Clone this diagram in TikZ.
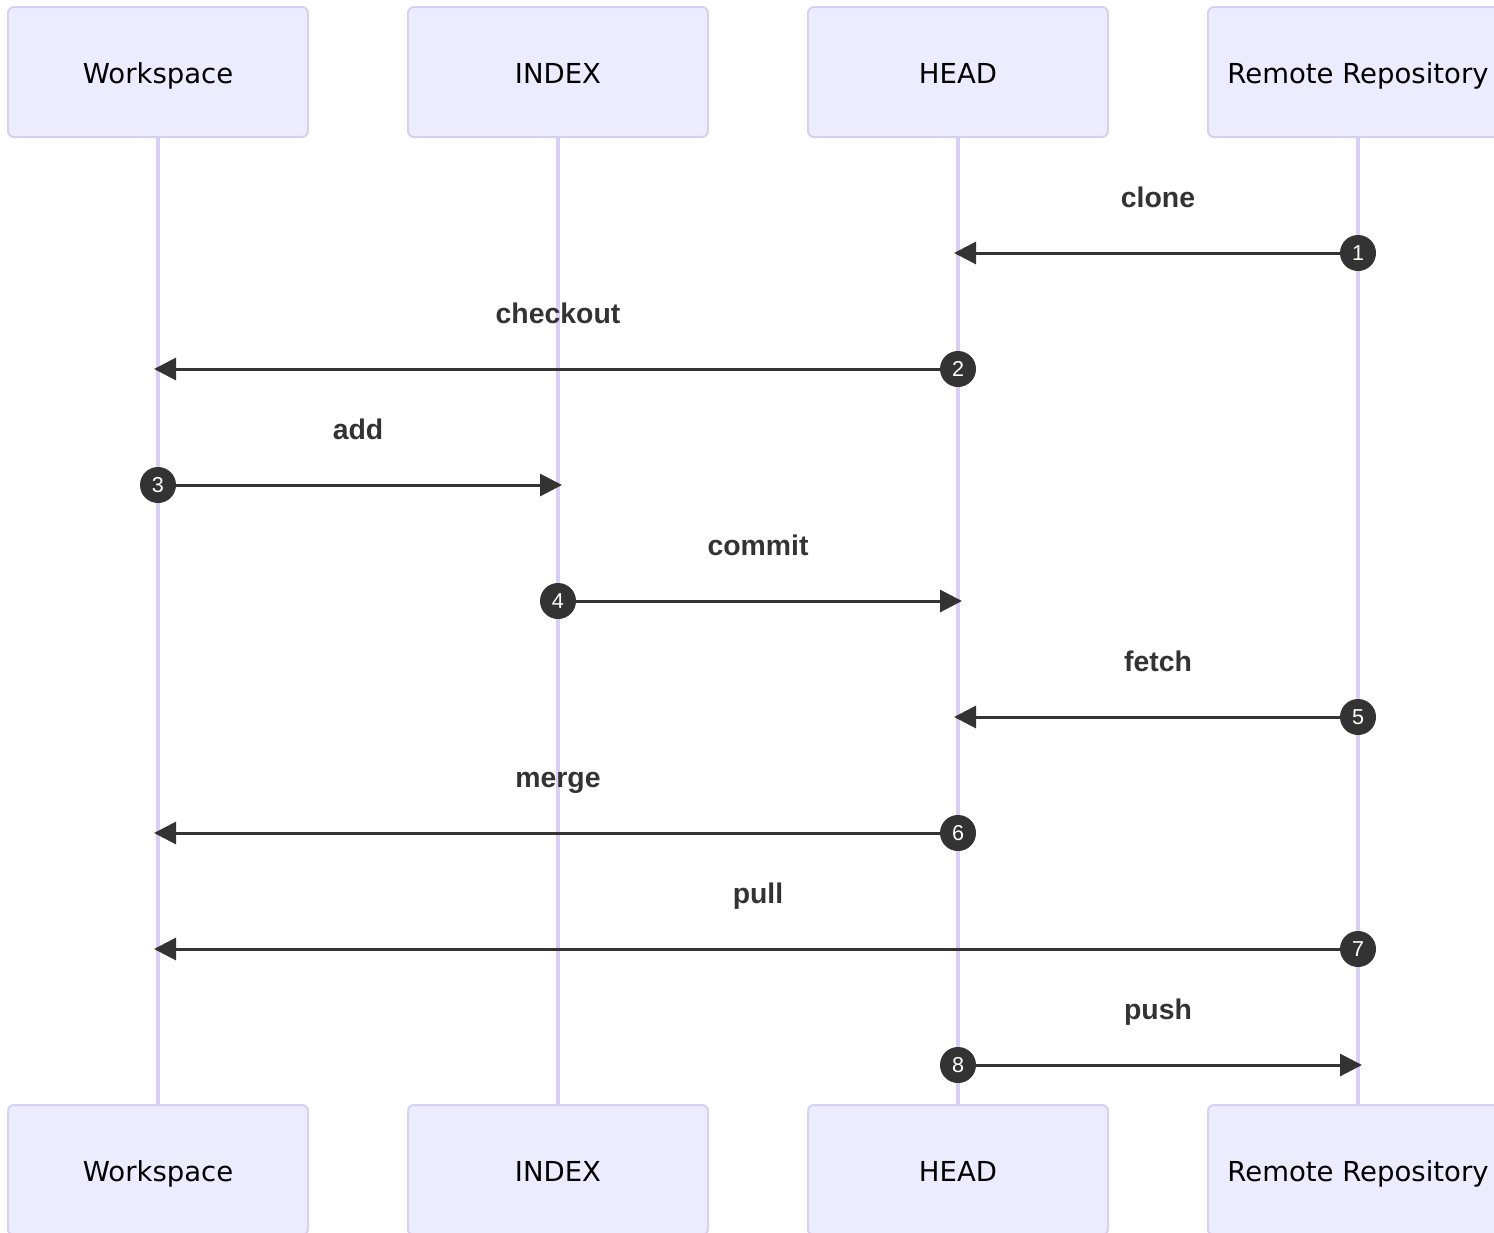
\documentclass[tikz,border=0pt]{standalone}
\usepackage{fontspec}
\setmainfont{Liberation Sans}
\newfontfamily\actorfont{DejaVu Sans}
\usetikzlibrary{arrows.meta}
\definecolor{actfill}{HTML}{ECECFF}
\definecolor{actline}{HTML}{D9CEF3}
\definecolor{msgcol}{HTML}{333333}
\tikzset{
	actor/.style={draw=actline, line width=1pt, fill=actfill, rounded corners=3pt,
		minimum width=150pt, minimum height=65pt, inner sep=0pt,
		text height=11pt, text depth=0pt,
		font=\actorfont\fontsize{13.75}{16}\selectfont},
	lifeline/.style={draw=actline, line width=2pt},
	msg/.style={draw=msgcol, line width=1.5pt, -{Triangle[length=11pt,width=11pt]}},
	msglabel/.style={text=msgcol, text height=10pt, text depth=0pt,
		font=\bfseries\fontsize{14.2}{17}\selectfont},
	seqnum/.style={circle, fill=msgcol, minimum size=18pt, inner sep=0pt,
		text=white, font=\fontsize{10.8}{12}\selectfont}
}
\begin{document}
\begin{tikzpicture}[x=0.5pt,y=-0.5pt]
	\useasboundingbox (0,0) rectangle (1494,1232);
	% lifelines
	\coordinate (wt) at (158,137);  \coordinate (wb) at (158,1105);
	\coordinate (it) at (558,137);  \coordinate (ib) at (558,1105);
	\coordinate (ht) at (958,137);  \coordinate (hb) at (958,1105);
	\coordinate (rt) at (1358,137); \coordinate (rb) at (1358,1105);
	\draw[lifeline] (wt) -- (wb);
	\draw[lifeline] (it) -- (ib);
	\draw[lifeline] (ht) -- (hb);
	\draw[lifeline] (rt) -- (rb);
	% actors, top and bottom
	\node[actor] (work1) at (158,72) {Workspace};
	\node[actor] (index1) at (558,72) {INDEX};
	\node[actor] (head1) at (958,72) {HEAD};
	\node[actor] (remote1) at (1358,72) {Remote Repository};
	\node[actor] (work2) at (158,1170) {Workspace};
	\node[actor] (index2) at (558,1170) {INDEX};
	\node[actor] (head2) at (958,1170) {HEAD};
	\node[actor] (remote2) at (1358,1170) {Remote Repository};
	% messages
	\node[msglabel] (clone) at (1158,197) {clone};
	\node[seqnum] (s1) at (1358,253) {1};
	\coordinate (e1) at (954,253);
	\draw[msg] (s1) -- (e1);
	\node[msglabel] (checkout) at (558,313) {checkout};
	\node[seqnum] (s2) at (958,369) {2};
	\coordinate (e2) at (154,369);
	\draw[msg] (s2) -- (e2);
	\node[msglabel] (add) at (358,429) {add};
	\node[seqnum] (s3) at (158,485) {3};
	\coordinate (e3) at (562,485);
	\draw[msg] (s3) -- (e3);
	\node[msglabel] (commit) at (758,545) {commit};
	\node[seqnum] (s4) at (558,601) {4};
	\coordinate (e4) at (962,601);
	\draw[msg] (s4) -- (e4);
	\node[msglabel] (fetch) at (1158,661) {fetch};
	\node[seqnum] (s5) at (1358,717) {5};
	\coordinate (e5) at (954,717);
	\draw[msg] (s5) -- (e5);
	\node[msglabel] (merge) at (558,777) {merge};
	\node[seqnum] (s6) at (958,833) {6};
	\coordinate (e6) at (154,833);
	\draw[msg] (s6) -- (e6);
	\node[msglabel] (pull) at (758,893) {pull};
	\node[seqnum] (s7) at (1358,949) {7};
	\coordinate (e7) at (154,949);
	\draw[msg] (s7) -- (e7);
	\node[msglabel] (push) at (1158,1009) {push};
	\node[seqnum] (s8) at (958,1065) {8};
	\coordinate (e8) at (1362,1065);
	\draw[msg] (s8) -- (e8);
\end{tikzpicture}
\end{document}
